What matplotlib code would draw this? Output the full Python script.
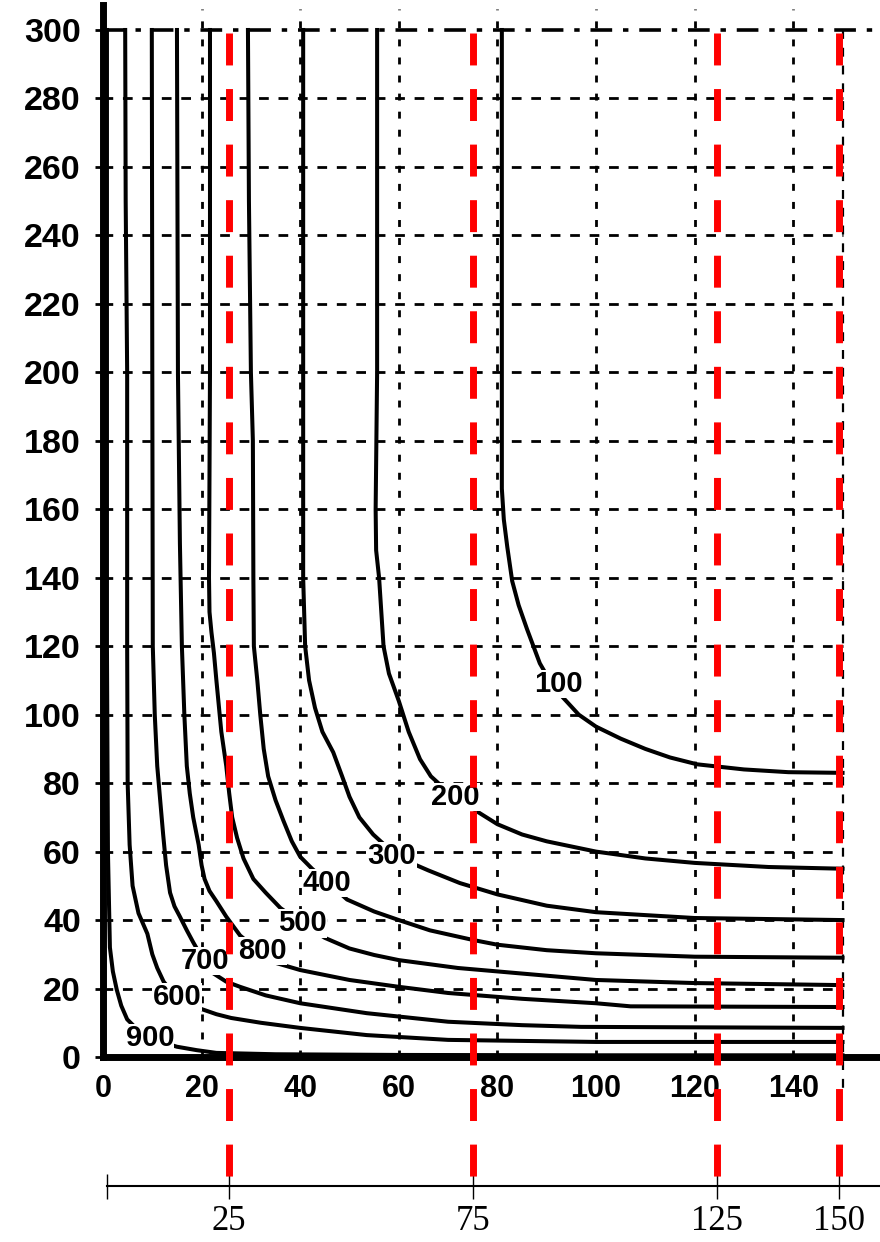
import matplotlib

matplotlib.use("Agg")
import matplotlib.pyplot as plt
from matplotlib.transforms import blended_transform_factory

plt.rcParams["font.family"] = ["Liberation Sans", "DejaVu Sans"]

# contour lines (x, y pairs)
c100_x = [80.9, 80.9, 81.3, 82.0, 83.0, 84.3, 86.0, 88.6, 91.0, 93.3, 96.5, 100.0, 105.0, 110.0, 115.0, 120.5, 130.0, 139.0, 150.0]
c100_y = [300, 166, 157, 149, 139, 132, 125, 115, 109, 105, 100, 96.5, 93, 90, 87.5, 85.5, 84, 83.2, 83]

c200_x = [55.6, 55.6, 55.3, 55.4, 56.0, 56.9, 58.0, 60.0, 62.0, 64.3, 66.5, 68.4, 71.4, 75.0, 80.0, 85.0, 90.0, 100.0, 110.0, 120.0, 135.0, 150.0]
c200_y = [300, 200, 160, 148, 140, 120, 112, 104, 95, 87, 82, 79.5, 76, 72.5, 68, 65, 63, 60, 58, 56.7, 55.5, 55]

c300_x = [40.6, 40.6, 41.0, 41.8, 43.0, 44.5, 46.7, 48.5, 50.0, 52.0, 54.8, 58.6, 62.0, 66.0, 72.4, 80.0, 90.0, 100.0, 120.0, 150.0]
c300_y = [300, 140, 120, 110, 102, 95, 89, 82, 76, 70, 65, 60, 57, 54.5, 50.8, 47.5, 44.2, 42.3, 40.6, 40]

c400_x = [29.4, 29.6, 30.0, 30.4, 30.5, 30.6, 31.3, 31.9, 32.6, 33.5, 35.0, 36.6, 38.3, 40.0, 42.4, 46.0, 49.5, 55.0, 60.0, 66.3, 75.0, 80.0, 90.0, 100.0, 120.0, 150.0]
c400_y = [300, 250, 200, 180, 140, 120, 110, 100, 90, 82, 75, 69, 63, 58.5, 55, 50.5, 46, 42.5, 40, 37, 34.2, 32.8, 31.2, 30.3, 29.3, 29]

c500_x = [21.7, 21.7, 21.5, 21.6, 22.0, 22.5, 23.0, 23.4, 24.0, 25.0, 25.6, 26.2, 27.2, 28.5, 30.5, 33.0, 36.0, 40.4, 45.0, 50.0, 55.0, 60.0, 72.0, 100.0, 120.0, 150.0]
c500_y = [300, 200, 140, 130, 124, 118, 110, 104, 95, 85, 77, 70, 64, 58, 52, 48, 43.5, 39, 34.8, 31.7, 29.8, 28.3, 26, 22.5, 21.6, 21]

c800_x = [15.0, 15.2, 15.6, 16.0, 16.5, 17.0, 17.6, 18.3, 19.4, 20.0, 20.6, 21.6, 23.0, 25.0, 27.8, 31.8, 35.0, 40.0, 50.0, 60.0, 70.0, 85.0, 100.0, 107.0, 150.0]
c800_y = [300, 200, 150, 120, 100, 85, 77, 70, 62, 56, 52, 48.5, 45.5, 41, 35.5, 30.7, 27.5, 25.4, 22.5, 20.5, 18.7, 17, 15.7, 14.8, 14.6]

c700_x = [9.9, 10.0, 10.1, 10.5, 11.0, 11.6, 12.2, 12.8, 13.6, 14.5, 15.6, 17.0, 18.3, 20.5, 22.3, 25.0, 27.8, 33.0, 40.0, 53.5, 70.0, 85.0, 97.0, 150.0]
c700_y = [300, 200, 120, 100, 85, 75, 65, 56, 48, 44, 41, 37, 33.5, 28, 24.5, 22, 20.5, 18, 15.7, 12.8, 10.3, 9.3, 8.8, 8.5]

c600_x = [4.5, 4.6, 4.9, 4.9, 5.0, 5.4, 6.0, 7.2, 9.0, 10.0, 11.0, 12.3, 14.0, 17.0, 20.0, 23.0, 26.0, 32.0, 40.0, 53.5, 70.0, 100.0, 150.0]
c600_y = [300, 250, 200, 120, 80, 62, 50, 42, 36, 30, 26, 22, 19, 16, 14, 12.5, 11.4, 10, 8.5, 6.4, 5.0, 4.4, 4.4]

c900_x = [0.8, 0.8, 1.0, 1.4, 2.0, 2.8, 3.7, 4.9, 7.0, 9.5, 12.0, 15.0, 19.0, 23.0, 35.0, 60.0, 100.0, 150.0]
c900_y = [300, 120, 60, 32, 25, 19.6, 15, 11, 8, 6, 4.3, 3, 2, 1.2, 0.8, 0.6, 0.5, 0.5]

curves = [(c100_x, c100_y), (c200_x, c200_y), (c300_x, c300_y), (c400_x, c400_y),
          (c500_x, c500_y), (c800_x, c800_y), (c700_x, c700_y), (c600_x, c600_y),
          (c900_x, c900_y)]

# inline labels as printed in the scan
label_text = ["100", "200", "300", "400", "500", "800", "700", "600", "900"]
label_x = [92.3, 71.4, 58.6, 45.4, 40.4, 32.3, 20.7, 15.0, 9.5]
label_y = [109, 76, 58.7, 50.8, 39, 31, 28, 17.5, 5.5]

x_ticks = [0, 20, 40, 60, 80, 100, 120, 140]
y_ticks = list(range(0, 301, 20))

# red markers and the hand-drawn bottom scale
red_x = [25, 75, 125, 150]
scale_ticks = [0, 25, 75, 125, 150]
scale_labels = ["", "25", "75", "125", "150"]

W, H = 880, 1242
fig = plt.figure(figsize=(W / 100, H / 100), dpi=100)
ax = fig.add_axes([103 / W, 1 - 1057 / H, (W - 103) / W, (1057 - 5) / H])
ax.set_xlim(0, 157.6)
ax.set_ylim(0, 307.3)

# grid
ax.hlines(y_ticks[1:-1], 0, 150, colors="black", lw=2, linestyles=(0, (3.5, 3.5)), zorder=1)
ax.vlines(x_ticks[1:], 0, 306, colors="black", lw=2, linestyles=(0, (2.5, 4)), zorder=1)
ax.plot([0, 157.6], [300, 300], color="black", lw=2.6, ls=(0, (6, 3, 1.5, 3)), zorder=1)
ax.plot([150, 150], [300, -10], color="black", lw=1.6, ls=(0, (4, 4)), zorder=1, clip_on=False)

for cx, cy in curves:
    ax.plot(cx, cy, color="black", lw=2.9, solid_joinstyle="round", zorder=2)

for t, lx, ly in zip(label_text, label_x, label_y):
    ax.text(lx, ly, t, ha="center", va="center", fontsize=21, fontweight="bold",
            zorder=3, bbox=dict(facecolor="white", edgecolor="none", pad=0.3))

for spine in ("top", "right"):
    ax.spines[spine].set_visible(False)
ax.spines["left"].set_linewidth(5)
ax.spines["bottom"].set_linewidth(5)

ax.set_xticks(x_ticks)
ax.set_yticks(y_ticks)
ax.tick_params(axis="x", length=0, pad=12, labelsize=22)
ax.tick_params(axis="y", length=6, width=2, pad=10, labelsize=24.5)
for lab in ax.get_xticklabels() + ax.get_yticklabels():
    lab.set_fontweight("bold")

# bottom scale
ax2 = fig.add_axes([107 / W, 1 - 1186 / H, (W - 107) / W, 0.0001])
ax2.set_xlim(0, (W - 107) / 4.88)
ax2.set_yticks([])
for spine in ("top", "right", "left"):
    ax2.spines[spine].set_visible(False)
ax2.spines["bottom"].set_linewidth(1.5)
ax2.set_xticks(scale_ticks)
ax2.set_xticklabels(scale_labels, family="Liberation Serif", fontsize=25)
ax2.tick_params(axis="x", direction="inout", length=18, width=1, pad=5)
ax2.patch.set_alpha(0)

# red dashed lines from the top of the chart down to the bottom scale
tr = blended_transform_factory(ax2.transData, fig.transFigure)
for rx in red_x:
    ax2.plot([rx, rx], [1 - 33 / H, 1 - 1186 / H], transform=tr, color="red", lw=5,
             ls=(0, (4.6, 3.4)), zorder=6, clip_on=False)

fig.savefig("out.png", dpi=100)
